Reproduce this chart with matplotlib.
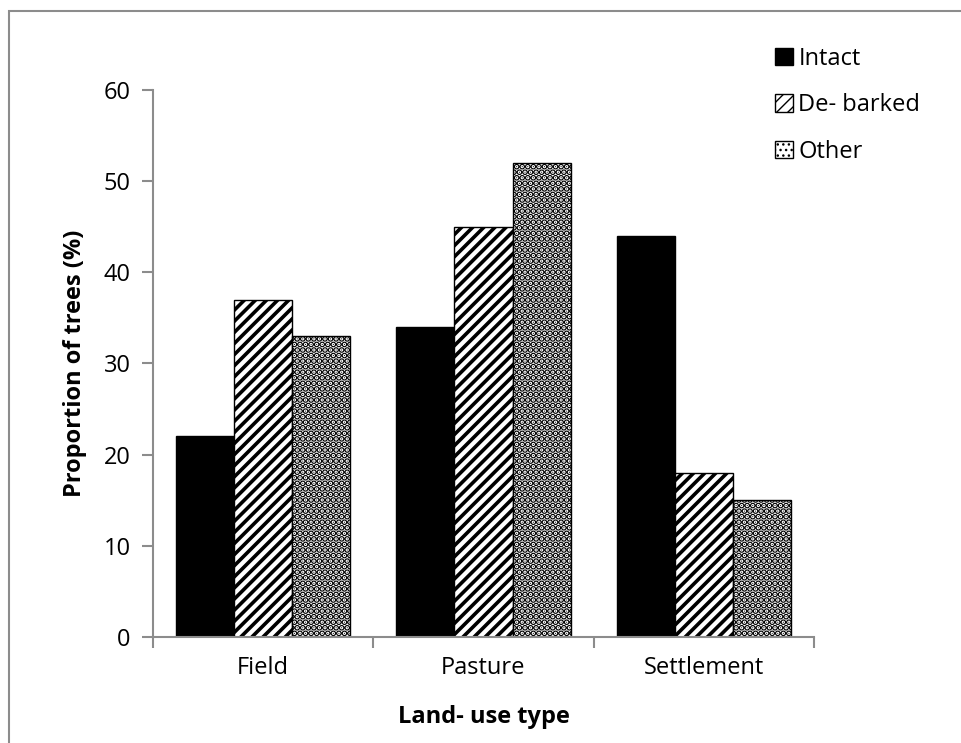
import matplotlib.pyplot as plt
import matplotlib.patches as mpatches
import numpy as np

plt.rcParams['font.family'] = ['Open Sans', 'DejaVu Sans']

# Data
categories = ['Field', 'Pasture', 'Settlement']
intact = [22, 34, 44]
debarked = [37, 45, 18]
other = [33, 52, 15]
series_names = ['Intact', 'De- barked', 'Other']

fig = plt.figure(figsize=(9.61, 7.43), dpi=100)
ax = fig.add_axes([0.1592, 0.1427, 0.6878, 0.7362])

# outer chart frame
frame = mpatches.Rectangle((9 / 961, -0.05), 1.2, 1 - 11 / 743 + 0.05,
                           transform=fig.transFigure, fill=False,
                           edgecolor='#8c8c8c', linewidth=1.5)
fig.patches.append(frame)

x = np.arange(len(categories)) + 0.5
w = 0.264

ax.bar(x - w, intact, w, color='black', edgecolor='black', linewidth=1,
       label=series_names[0])
ax.bar(x, debarked, w, color='white', edgecolor='black', linewidth=1,
       hatch='///', hatch_linewidth=2.6, label=series_names[1])
ax.bar(x + w, other, w, color='white', edgecolor='black', linewidth=1,
       hatch='...', hatch_linewidth=3.2, label=series_names[2])

ax.set_xlim(0, 3)
ax.set_ylim(0, 60)
ax.set_yticks(range(0, 61, 10))
ax.set_xticks(x)
ax.set_xticklabels(categories)
ax.set_xticks([0, 1, 2, 3], minor=True)
ax.tick_params(axis='x', which='major', length=0, pad=14)
ax.tick_params(axis='x', which='minor', length=8, width=1.5, color='#8c8c8c')
ax.tick_params(axis='y', length=8, width=1.5, color='#8c8c8c', pad=8)
ax.tick_params(labelsize=17)

for s in ['top', 'right']:
    ax.spines[s].set_visible(False)
for s in ['left', 'bottom']:
    ax.spines[s].set_color('#8c8c8c')
    ax.spines[s].set_linewidth(1.5)

ax.set_ylabel('Proportion of trees (%)', fontsize=17, fontweight='bold', labelpad=12)
ax.set_xlabel('Land- use type', fontsize=17, fontweight='bold', labelpad=18)

ax.legend(loc='upper left', bbox_to_anchor=(763 / 961, 1 - 35 / 743),
          bbox_transform=fig.transFigure, frameon=False, fontsize=17,
          handlelength=0.75, handleheight=0.75, handletextpad=0.25,
          labelspacing=0.95, borderpad=0)

fig.savefig('out.png', dpi=100)
